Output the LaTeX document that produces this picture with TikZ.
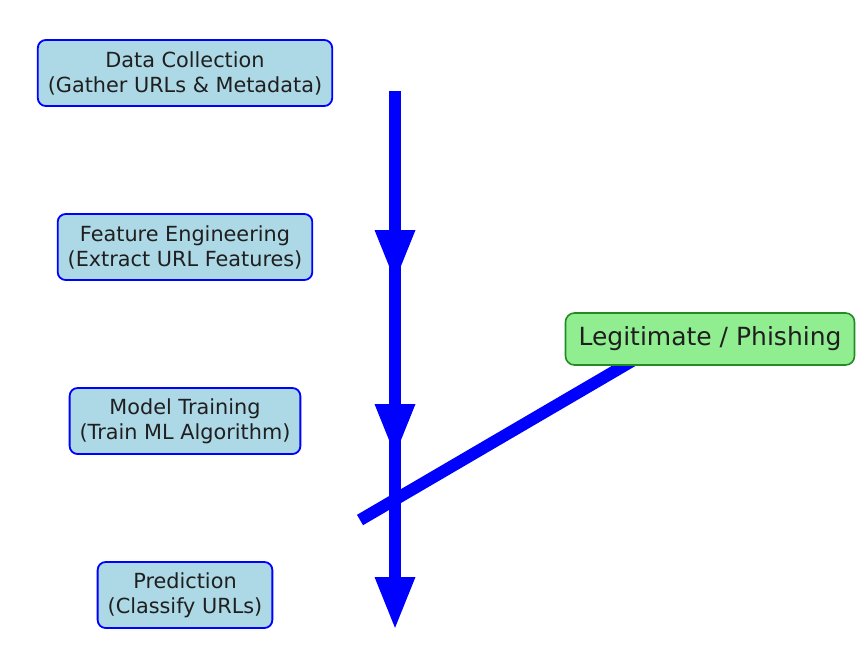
\documentclass[tikz,border=0pt]{standalone}
\usepackage{fontspec}
\setmainfont{DejaVu Sans}
\usetikzlibrary{arrows.meta}
\definecolor{boxblue}{HTML}{ADD8E6}
\definecolor{boxgreen}{HTML}{90EE90}
\definecolor{edgegreen}{RGB}{34,139,34}
\definecolor{flowblue}{HTML}{0000FF}
\begin{document}
\begin{tikzpicture}[x=1pt,y=-1pt,
  stepbox/.style={draw=flowblue, fill=boxblue, line width=1.8pt, rounded corners=8pt,
    align=center, font=\fontsize{20.8}{25}\selectfont, inner xsep=10pt, inner ysep=0pt,
    minimum height=66pt, text=black!88},
  resultbox/.style={draw=edgegreen, fill=boxgreen, line width=1.6pt, rounded corners=9pt,
    font=\fontsize{25}{30}\selectfont, inner xsep=13pt, inner ysep=0pt,
    minimum height=52pt, text=black!88},
  flow/.style={draw=flowblue, line width=12pt, -{Triangle[width=37pt,length=53pt]}},
  link/.style={draw=flowblue, line width=12pt}
]
\useasboundingbox[fill=white] (0,0) rectangle (861,646);

\coordinate (s1) at (395,91);
\coordinate (t1) at (395,283);
\coordinate (s2) at (395,265);
\coordinate (t2) at (395,457);
\coordinate (s3) at (395,439);
\coordinate (t3) at (395,630);
\coordinate (d0) at (360,520);
\coordinate (d1) at (680,333);

\draw[flow] (s1) -- (t1);
\draw[flow] (s2) -- (t2);
\draw[flow] (s3) -- (t3);
\draw[link] (d0) -- (d1);

\node[stepbox] (collect) at (185,73) {Data Collection\\(Gather URLs \& Metadata)};
\node[stepbox] (feature) at (185,247) {Feature Engineering\\(Extract URL Features)};
\node[stepbox] (train) at (185,421) {Model Training\\(Train ML Algorithm)};
\node[stepbox] (predict) at (185,595) {Prediction\\(Classify URLs)};
\node[resultbox] (result) at (710,339) {Legitimate / Phishing};
\end{tikzpicture}
\end{document}
